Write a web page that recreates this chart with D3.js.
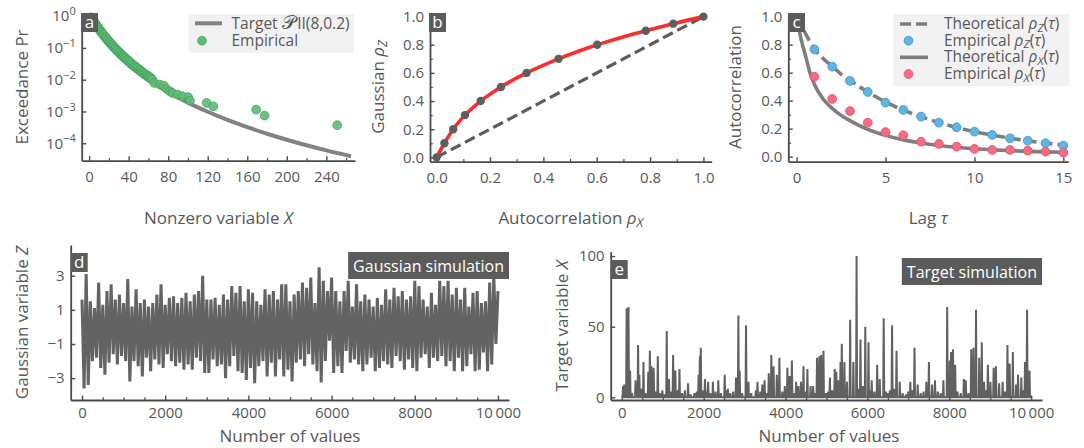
<!DOCTYPE html>
<html>
<head>
<meta charset="utf-8">
<script src="https://cdn.jsdelivr.net/npm/d3@7"></script>
<style>
  body { margin: 0; background: #fff; }
  svg { display: block; }
</style>
</head>
<body>
<svg id="fig" width="1084" height="448"></svg>
<script>
// ---------------- data ----------------
// (a) exceedance probability of the nonzero values
const targetX = [0, 2, 4, 6, 8, 10, 15, 20, 25, 30, 40, 50, 60, 70, 80, 90, 100, 120, 140, 160, 180, 200, 220, 240, 265];
const targetP = [1, 0.784, 0.621, 0.497, 0.402, 0.328, 0.2035, 0.1317, 0.0883, 0.0609, 0.03125, 0.01734, 0.01024, 0.00636, 0.00412, 0.00276, 0.0019, 0.000977, 0.000542, 0.00032, 0.000199, 0.000129, 0.0000862, 0.0000595, 0.0000388];
const empX = [2, 3, 4, 5, 6, 7, 8, 9, 10, 11, 12, 13, 14, 15, 16, 17, 18, 19, 20, 21, 22, 23, 24, 25, 26, 27, 28, 29, 30, 31, 32,
              33, 34, 35, 36, 37, 38, 39, 40, 41, 42, 43, 44, 45, 46, 47, 48, 49, 50, 51, 52, 53, 54, 55, 56, 57, 58, 59, 60, 61, 62, 63, 64,
              66, 71.7, 75.7, 78.4, 81.8, 84.5, 89.5, 94.6, 100.3, 102, 118.9, 125.6, 169, 177.5, 251];
const empP = [0.92, 0.877, 0.73, 0.698, 0.585, 0.562, 0.472, 0.456, 0.385, 0.373, 0.316, 0.308, 0.262, 0.256, 0.218, 0.214, 0.183, 0.18, 0.155, 0.153, 0.131, 0.13, 0.112, 0.111, 0.0962, 0.0955, 0.0828, 0.0824, 0.0716, 0.0714, 0.0622,
              0.0622, 0.0542, 0.0543, 0.0474, 0.0476, 0.0417, 0.0419, 0.0367, 0.037, 0.0324, 0.0327, 0.0288, 0.029, 0.0256, 0.0259, 0.0228, 0.0231, 0.0204, 0.0207, 0.0182, 0.0185, 0.0164, 0.0167, 0.0148, 0.015, 0.0133, 0.0136, 0.012, 0.0123, 0.0109, 0.0111, 0.0099,
              0.0079, 0.007, 0.0065, 0.0051, 0.0043, 0.0038, 0.0034, 0.003, 0.0028, 0.0022, 0.00186, 0.00145, 0.00114, 0.00074, 0.00037];

// (b) autocorrelation transformation
const rhoX = [0, 0.029, 0.062, 0.106, 0.165, 0.241, 0.337, 0.457, 0.602, 0.784, 0.887, 1.0];
const rhoZ = [0, 0.1, 0.2, 0.3, 0.4, 0.5, 0.6, 0.7, 0.8, 0.9, 0.95, 1.0];

// (c) autocorrelation structures
const lagsEmp = [1, 2, 3, 4, 5, 6, 7, 8, 9, 10, 11, 12, 13, 14, 15];
const empRhoZ = [0.766, 0.643, 0.541, 0.462, 0.386, 0.334, 0.286, 0.243, 0.21, 0.179, 0.155, 0.131, 0.114, 0.096, 0.079];
const empRhoX = [0.571, 0.412, 0.326, 0.243, 0.176, 0.153, 0.107, 0.091, 0.071, 0.055, 0.048, 0.048, 0.043, 0.036, 0.029];
const lagsTheo = [0, 0.1, 0.25, 0.5, 0.75, 1, 1.5, 2, 2.5, 3, 4, 5, 6, 7, 8, 9, 10, 11, 12, 13, 14, 15];
const theoRhoZ = [1, 0.975, 0.94, 0.88, 0.82, 0.77, 0.7, 0.645, 0.59, 0.545, 0.462, 0.39, 0.333, 0.285, 0.244, 0.209, 0.179, 0.154, 0.132, 0.113, 0.097, 0.083];
const theoRhoX = [1, 0.93, 0.84, 0.72, 0.6, 0.515, 0.41, 0.345, 0.295, 0.258, 0.195, 0.152, 0.12, 0.097, 0.08, 0.067, 0.057, 0.049, 0.043, 0.038, 0.034, 0.031];

// (d) Gaussian simulation: local highs (every 100 steps) and lows (offset by 50)
const gaussHi = [1.6, 3.1, 1.5, 1.1, 2.6, 1.3, 2.1, 2.5, 1.6, 1.9, 1.4, 2.8, 1.2, 2.2, 1.4, 1.6, 1.2, 1.4, 1.9, 2.5,
                 1.3, 1.7, 1.8, 1.4, 1.7, 2.0, 1.5, 1.9, 2.1, 3.0, 1.6,
                 1.6, 1.7, 1.3, 1.9, 1.6, 2.4, 2.0, 2.4, 1.5, 2.2, 2.0, 1.5, 1.3, 2.2, 1.9, 2.1, 1.6, 2.5, 2.5, 1.5,
                 1.9, 2.1, 2.6, 2.3, 2.9, 1.4, 3.5, 2.7, 2.1, 2.9,
                 2.1, 1.5, 2.1, 2.7, 1.2, 2.5, 1.5, 1.9, 1.6, 1.2, 1.7, 1.3, 2.2, 1.6, 2.3, 1.8, 2.1, 1.6, 1.8, 2.7,
                 2.4, 1.6, 1.2, 2.0, 1.3, 2.7, 2.4, 2.7, 1.9, 2.3, 1.6, 2.3, 1.2, 2.0, 2.1, 1.4, 1.5, 2.6, 3.0, 2.1];
const gaussLo = [-3.6, -3.4, -2.0, -1.8, -2.4, -2.8, -2.1, -1.6, -2.2, -1.7, -2.0, -3.2, -2.0, -2.3, -2.9, -1.8, -2.6, -1.9, -2.2, -2.4,
                 -1.6, -2.0, -2.3, -2.1, -2.5, -2.2, -2.5, -1.8, -2.0, -2.7,
                 -2.7, -1.9, -2.3, -2.2, -3.0, -2.3, -1.7, -2.6, -2.7, -3.1, -2.4, -3.3, -2.3, -2.0, -2.9, -2.1, -2.9, -1.9, -2.9, -2.5,
                 -3.2, -2.1, -1.9, -2.3, -1.6, -2.2, -2.6, -3.25, -2.0, -0.8, -2.7,
                 -2.3, -2.7, -1.4, -2.1, -1.9, -2.2, -2.6, -2.2, -1.8, -2.6, -2.4, -2.0, -2.2, -2.4, -1.7, -2.0, -2.5, -1.9, -2.4,
                 -2.6, -1.8, -1.6, -2.4, -1.8, -2.0, -1.7, -2.3, -2.0, -2.6, -1.8, -2.6, -2.3, -1.6, -2.6, -2.5, -1.5, -2.6, -2.2, -1.0];

// (e) target simulation: time step and value of the nonzero bursts
const burstIdx = [30, 62, 117, 163, 202, 250, 335, 397, 428, 475, 529, 580, 646, 685, 724, 778, 830, 879, 930, 990,
  1040, 1097, 1151, 1200, 1253, 1307, 1350, 1408, 1470, 1540, 1618, 1680, 1774, 1830, 1875, 1906, 1929, 1980,
  2031, 2070, 2108, 2160, 2225, 2290, 2357, 2420, 2513, 2560, 2591, 2650, 2720, 2790, 2847, 2878, 2940,
  3034, 3094, 3160, 3275, 3314, 3380, 3432, 3487, 3540, 3590, 3652, 3707, 3786, 3849, 3920, 3982,
  4045, 4100, 4155, 4210, 4258, 4313, 4376, 4438, 4490, 4533, 4611, 4674, 4720, 4768, 4823, 4871, 4926, 4990,
  5040, 5083, 5140, 5201, 5240, 5295, 5342, 5374, 5437, 5500, 5578, 5657, 5735, 5790, 5830, 5890, 5948,
  6026, 6070, 6105, 6170, 6238, 6301, 6398, 6450, 6500, 6550, 6602, 6650, 6711, 6790, 6860, 6940,
  7000, 7048, 7100, 7150, 7228, 7300, 7370, 7440, 7502, 7580, 7651, 7720, 7790, 7855, 7949,
  8011, 8043, 8090, 8144, 8200, 8280, 8356, 8403, 8470, 8536, 8591, 8653, 8732, 8794, 8849, 8900, 8943,
  9005, 9084, 9139, 9217, 9303, 9360, 9421, 9475, 9553, 9632, 9680, 9760, 9800, 9850, 9900, 9960];
const burstVal = [8, 9, 63, 64, 19, 3, 12, 37, 16, 6, 25, 3, 18, 33, 22, 21, 4, 29, 3, 5,
  2, 47, 13, 4, 30, 19, 5, 20, 3, 5, 10, 2, 3, 4, 16, 29, 35, 5,
  13, 4, 11, 3, 11, 4, 12, 3, 16, 5, 6, 3, 4, 14, 58, 19, 3,
  51, 11, 3, 5, 11, 4, 9, 12, 3, 17, 30, 22, 16, 28, 4, 8,
  21, 15, 26, 3, 11, 8, 11, 22, 4, 20, 8, 8, 3, 28, 29, 30, 33, 3,
  4, 14, 5, 20, 18, 12, 25, 38, 25, 11, 55, 25, 100, 6, 41, 8, 50,
  39, 5, 12, 4, 23, 13, 56, 4, 3, 5, 51, 6, 33, 11, 3, 2,
  4, 11, 5, 35, 9, 3, 4, 11, 25, 9, 12, 4, 3, 12, 64,
  26, 32, 34, 23, 4, 3, 13, 12, 3, 34, 35, 62, 28, 39, 11, 5, 23,
  11, 21, 22, 10, 11, 4, 37, 24, 32, 9, 16, 14, 5, 25, 62, 19];

// axis ticks and labels
const aTicksX = [0, 40, 80, 120, 160, 200, 240];
const aTicksY = [1, 1e-1, 1e-2, 1e-3, 1e-4];
const unitTicks = [0, 0.2, 0.4, 0.6, 0.8, 1.0];
const cTicksX = [0, 5, 10, 15];
const dTicksY = [-3, -1, 1, 3];
const eTicksY = [0, 50, 100];
const seriesTicks = [0, 2000, 4000, 6000, 8000, 10000];

// ---------------- styling ----------------
const FONT = "'Open Sans', 'Noto Sans', sans-serif";
const INK = "#585858";
const SPINE = "#4a4a4a";
const LEG_FS = 15.5;
const svg = d3.select("#fig").attr("font-family", FONT);

function styleAxis(g, fs) {
  g.attr("font-family", null).attr("font-size", null);
  g.select(".domain").attr("stroke", SPINE).attr("stroke-width", 1.8);
  g.selectAll(".tick line").attr("stroke", SPINE).attr("stroke-width", 1.4);
  g.selectAll(".tick text").attr("fill", INK).attr("font-size", fs || 15).attr("font-family", FONT);
}

function minorTicks(axisGen, at, vals, len) {
  const g = svg.append("g").attr("transform", at)
    .call(axisGen.tickValues(vals).tickFormat("").tickSizeInner(-len).tickSizeOuter(0));
  g.select(".domain").remove();
  g.selectAll(".tick line").attr("stroke", SPINE).attr("stroke-width", 1.2);
}

function frame(x, y, o) {
  const yb = y.range()[0], xl = x.range()[0];
  const gx = svg.append("g").attr("transform", `translate(0,${yb})`)
    .call(d3.axisBottom(x).tickValues(o.xt).tickFormat(o.xf).tickSizeInner(-4.5).tickSizeOuter(0).tickPadding(o.xpad));
  styleAxis(gx);
  const gy = svg.append("g").attr("transform", `translate(${xl},0)`)
    .call(d3.axisLeft(y).tickValues(o.yt).tickFormat(o.yf).tickSizeInner(-4.5).tickSizeOuter(0).tickPadding(6));
  styleAxis(gy);
  if (o.xm) minorTicks(d3.axisBottom(x), `translate(0,${yb})`, o.xm, 2.8);
  if (o.ym) minorTicks(d3.axisLeft(y), `translate(${xl},0)`, o.ym, 2.8);
  return { gx, gy };
}

// text with italic symbols and subscripts: parts = [[text, italic?, sub?], ...]
function richText(sel, parts) {
  let shifted = false;
  parts.forEach(([t, it, sub]) => {
    const ts = sel.append("tspan").text(t);
    if (it) ts.attr("font-style", "italic");
    if (sub && !shifted) { ts.attr("dy", "0.22em").attr("font-size", "0.75em"); shifted = true; }
    else if (sub) { ts.attr("font-size", "0.75em"); }
    else if (shifted) { ts.attr("dy", "-0.165em"); shifted = false; }
  });
  return sel;
}

function xLabel(cx, y, parts) {
  richText(svg.append("text").attr("x", cx).attr("y", y).attr("text-anchor", "middle")
    .attr("font-size", 17).attr("fill", INK), parts);
}
function yLabel(x, cy, parts) {
  richText(svg.append("text").attr("transform", `translate(${x},${cy}) rotate(-90)`)
    .attr("text-anchor", "middle").attr("font-size", 17).attr("fill", INK), parts);
}
function badge(x, y, letter) {
  svg.append("rect").attr("x", x).attr("y", y).attr("width", 17).attr("height", 19).attr("fill", "#5b5b5b");
  svg.append("text").attr("x", x + 8.5).attr("y", y + 15).attr("text-anchor", "middle")
    .attr("font-size", 17).attr("fill", "#fff").text(letter);
}
function tagBox(xRight, y, label) {
  const t = svg.append("text").attr("y", y + 20).attr("font-size", 16).attr("fill", "#fff").text(label);
  const w = t.node().getComputedTextLength();
  svg.insert("rect", () => t.node()).attr("x", xRight - w - 10).attr("y", y).attr("width", w + 10).attr("height", 27).attr("fill", "#5b5b5b");
  t.attr("x", xRight - w - 5);
}

const fmt1 = d3.format(".1f");
const fmtSeries = d => d === 10000 ? "10\u2009000" : String(d);

// ---------------- (a) exceedance ----------------
{
  const x = d3.scaleLinear([-7.5, 269], [81.7, 355]);
  const y = d3.scaleLog([Math.pow(10, -4.55), Math.pow(10, 0.1)], [160.7, 13]);
  const { gy } = frame(x, y, { xt: aTicksX, xf: d3.format("d"), xpad: 10.5,
    xm: [20, 60, 100, 140, 180, 220, 260], yt: aTicksY, yf: () => "10" });
  gy.selectAll(".tick text").each(function (d) {
    const e = Math.round(Math.log10(d));
    d3.select(this).append("tspan").attr("dy", "-0.55em").attr("font-size", 11)
      .text(String(e).replace("-", "\u2212"));
  });
  svg.append("path").datum(targetX.map((v, i) => [v, targetP[i]]))
    .attr("fill", "none").attr("stroke", "#828282").attr("stroke-width", 4)
    .attr("d", d3.line().x(d => x(d[0])).y(d => y(d[1])).curve(d3.curveMonotoneX));
  svg.append("g").selectAll("circle").data(empX.map((v, i) => [v, empP[i]])).join("circle")
    .attr("cx", d => x(d[0])).attr("cy", d => y(d[1])).attr("r", 4.4)
    .attr("fill", "#5fba76").attr("stroke", "#45a35e").attr("stroke-width", 0.8).attr("fill-opacity", 0.9);
  // legend
  svg.append("rect").attr("x", 188.5).attr("y", 14).attr("width", 165.5).attr("height", 38.7).attr("fill", "#f1f1f1");
  svg.append("line").attr("x1", 195).attr("x2", 222).attr("y1", 23.3).attr("y2", 23.3).attr("stroke", "#828282").attr("stroke-width", 4);
  svg.append("circle").attr("cx", 202).attr("cy", 40.7).attr("r", 4.4).attr("fill", "#5fba76").attr("stroke", "#45a35e").attr("stroke-width", 0.8);
  const tgt = svg.append("text").attr("x", 231.5).attr("y", 28.6).attr("font-size", LEG_FS).attr("fill", INK);
  tgt.append("tspan").text("Target ");
  tgt.append("tspan").attr("font-size", "1.2em").text("\u{1D4AB}");
  tgt.append("tspan").attr("dx", 1.5).text("II(8,0.2)");
  svg.append("text").attr("x", 231.5).attr("y", 46).attr("font-size", LEG_FS).attr("fill", INK).text("Empirical");
  badge(81, 13, "a");
  xLabel(218.4, 224, [["Nonzero variable "], ["X", true]]);
  yLabel(27.7, 87, [["Exceedance Pr"]]);
}

// ---------------- (b) rho_X -> rho_Z ----------------
{
  const x = d3.scaleLinear([-0.025, 1.031], [430, 711.7]);
  const y = d3.scaleLinear([-0.031, 1.03], [161.7, 12.4]);
  frame(x, y, { xt: unitTicks, xf: fmt1, xpad: 10.5, xm: [0.1, 0.3, 0.5, 0.7, 0.9],
    yt: unitTicks, yf: fmt1, ym: [0.1, 0.3, 0.5, 0.7, 0.9] });
  svg.append("line").attr("x1", x(0)).attr("y1", y(0)).attr("x2", x(1)).attr("y2", y(1))
    .attr("stroke", "#5c5c5c").attr("stroke-width", 3.2).attr("stroke-dasharray", "11,5");
  const pts = rhoX.map((v, i) => [v, rhoZ[i]]);
  svg.append("path").datum(pts).attr("fill", "none").attr("stroke", "#ff2b2b").attr("stroke-width", 3.6)
    .attr("d", d3.line().x(d => x(d[0])).y(d => y(d[1])).curve(d3.curveMonotoneX));
  svg.append("g").selectAll("circle").data(pts).join("circle")
    .attr("cx", d => x(d[0])).attr("cy", d => y(d[1])).attr("r", 4.2).attr("fill", "#5e5e5e");
  badge(429, 13, "b");
  xLabel(570.8, 224, [["Autocorrelation "], ["\u03C1", true], ["X", true, true]]);
  yLabel(384, 87, [["Gaussian "], ["\u03C1", true], ["Z", true, true]]);
}

// ---------------- (c) autocorrelation vs lag ----------------
{
  const x = d3.scaleLinear([-0.47, 15.28], [788.3, 1068.3]);
  const y = d3.scaleLinear([-0.036, 1.03], [161.7, 12.5]);
  frame(x, y, { xt: cTicksX, xf: d3.format("d"), xpad: 10.5,
    yt: unitTicks, yf: fmt1, ym: [0.1, 0.3, 0.5, 0.7, 0.9] });
  const line = d3.line().x(d => x(d[0])).y(d => y(d[1])).curve(d3.curveMonotoneX);
  svg.append("path").datum(lagsTheo.map((v, i) => [v, theoRhoZ[i]])).attr("fill", "none")
    .attr("stroke", "#7e7e7e").attr("stroke-width", 3.6).attr("stroke-dasharray", "11,5").attr("d", line);
  svg.append("g").selectAll("circle").data(lagsEmp.map((v, i) => [v, empRhoZ[i]])).join("circle")
    .attr("cx", d => x(d[0])).attr("cy", d => y(d[1])).attr("r", 4.4)
    .attr("fill", "#62b5e2").attr("stroke", "#3f9bd2").attr("stroke-width", 0.9);
  svg.append("path").datum(lagsTheo.map((v, i) => [v, theoRhoX[i]])).attr("fill", "none")
    .attr("stroke", "#7e7e7e").attr("stroke-width", 3.6).attr("d", line);
  svg.append("g").selectAll("circle").data(lagsEmp.map((v, i) => [v, empRhoX[i]])).join("circle")
    .attr("cx", d => x(d[0])).attr("cy", d => y(d[1])).attr("r", 4.4)
    .attr("fill", "#f56c84").attr("stroke", "#e5526b").attr("stroke-width", 0.9);
  // legend
  svg.append("rect").attr("x", 893.5).attr("y", 14).attr("width", 176).attr("height", 72).attr("fill", "#f1f1f1").attr("fill-opacity", 0.95);
  const rows = [24, 40.7, 57.3, 74];
  svg.append("line").attr("x1", 900).attr("x2", 928).attr("y1", rows[0]).attr("y2", rows[0])
    .attr("stroke", "#7e7e7e").attr("stroke-width", 3.6).attr("stroke-dasharray", "11,5");
  svg.append("circle").attr("cx", 908.5).attr("cy", rows[1]).attr("r", 4.4).attr("fill", "#62b5e2").attr("stroke", "#3f9bd2").attr("stroke-width", 0.9);
  svg.append("line").attr("x1", 900).attr("x2", 928).attr("y1", rows[2]).attr("y2", rows[2])
    .attr("stroke", "#7e7e7e").attr("stroke-width", 3.6);
  svg.append("circle").attr("cx", 908.5).attr("cy", rows[3]).attr("r", 4.4).attr("fill", "#f56c84").attr("stroke", "#e5526b").attr("stroke-width", 0.9);
  const legTexts = [["Theoretical ", "Z"], ["Empirical ", "Z"], ["Theoretical ", "X"], ["Empirical ", "X"]];
  legTexts.forEach(([w, s], i) => {
    richText(svg.append("text").attr("x", 944).attr("y", rows[i] + 5).attr("font-size", LEG_FS).attr("fill", INK),
      [[w], ["\u03C1", true], [s, true, true], ["("], ["\u03C4", true], [")"]]);
  });
  badge(788, 13, "c");
  xLabel(928.3, 224, [["Lag "], ["\u03C4", true]]);
  yLabel(741, 87, [["Autocorrelation"]]);
}

// ---------------- (d) Gaussian simulation ----------------
{
  const x = d3.scaleLinear([-272, 10265], [70.7, 509]);
  const y = d3.scaleLinear([-4.28, 4.8], [400, 245]);
  frame(x, y, { xt: seriesTicks, xf: fmtSeries, xpad: 7.5,
    xm: d3.range(500, 10000, 1000).concat([1000, 3000, 5000, 7000, 9000]),
    yt: dTicksY, yf: d => String(d).replace("-", "\u2212") });
  const pts = [];
  gaussHi.forEach((h, k) => {
    pts.push([k * 100, h]);
    if (k < gaussLo.length) pts.push([k * 100 + 50, gaussLo[k]]);
  });
  svg.append("path").datum(pts).attr("fill", "none").attr("stroke", "#636363").attr("stroke-width", 3)
    .attr("d", d3.line().x(d => x(d[0])).y(d => y(d[1])));
  tagBox(509, 252, "Gaussian simulation");
  badge(70.7, 253, "d");
  xLabel(290, 442, [["Number of values"]]);
  yLabel(27.7, 322.5, [["Gaussian variable "], ["Z", true]]);
}

// ---------------- (e) target simulation ----------------
{
  const x = d3.scaleLinear([-272, 10265], [610.7, 1042]);
  const y = d3.scaleLinear([-1.9, 103.1], [400, 251.7]);
  frame(x, y, { xt: seriesTicks, xf: fmtSeries, xpad: 7.5,
    xm: d3.range(500, 10000, 1000).concat([1000, 3000, 5000, 7000, 9000]),
    yt: eTicksY, yf: d3.format("d") });
  const pts = [[0, 0]];
  burstIdx.forEach((t, i) => { pts.push([t - 12, 0], [t, burstVal[i]], [t + 12, 0]); });
  pts.push([10000, 0]);
  svg.append("path").datum(pts).attr("fill", "none").attr("stroke", "#616161").attr("stroke-width", 2)
    .attr("d", d3.line().x(d => x(d[0])).y(d => y(d[1])));
  tagBox(1042, 258, "Target simulation");
  badge(610.7, 260, "e");
  xLabel(829, 442, [["Number of values"]]);
  yLabel(567.7, 326, [["Target variable "], ["X", true]]);
}
</script>
</body>
</html>
